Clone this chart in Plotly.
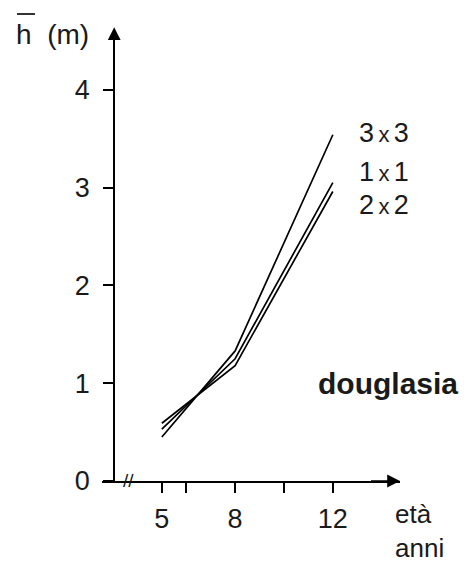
import plotly.graph_objects as go

eta = [5, 8, 12]
h_3x3 = [0.45, 1.33, 3.54]
h_1x1 = [0.53, 1.25, 3.05]
h_2x2 = [0.59, 1.18, 2.96]
series = [('3x3', h_3x3, 3.56), ('1x1', h_1x1, 3.16), ('2x2', h_2x2, 2.82)]

x_ticks = [5, 6, 8, 10, 12]
x_ticktext = ['5', '', '8', '', '12']
y_ticks = [0, 1, 2, 3, 4]

FONT = 'Liberation Sans, Arial, sans-serif'
X0, X1 = 2.55, 14.75
Y0, Y1 = 0, 4.56
Y_AXIS_X = 3.05
# page has an 8px body margin, plot area wanted at screen px 102..400 x 35..481
OFF = 8
L, T = 102 - OFF, 35 - OFF
PW, PH = 298, 446


def px(sx):
    return (sx - OFF - L) / PW


def py(sy):
    return (T + PH - (sy - OFF)) / PH


fig = go.Figure()
for name, vals, _ in series:
    fig.add_trace(go.Scatter(x=eta, y=vals, mode='lines', name=name,
                             line=dict(color='black', width=1.7), cliponaxis=False))

# curve labels
for name, vals, ylab in series:
    a, b = name.split('x')
    fig.add_annotation(x=13.0, y=ylab, text=a + '<span style="font-size:22px">\u2009x\u2009</span>' + b,
                       showarrow=False, xanchor='left', font=dict(size=27))

fig.add_annotation(x=11.3, y=1.0, text='<b>douglasia</b>', showarrow=False,
                   xanchor='left', font=dict(size=30))

# axis arrows
fig.add_annotation(x=Y_AXIS_X, y=4.64, ax=Y_AXIS_X, ay=4.2, xref='x', yref='y', axref='x', ayref='y',
                   text='', showarrow=True, arrowhead=2, arrowsize=1.6, arrowwidth=1.6, arrowcolor='black')
fig.add_annotation(x=X1, y=0, ax=13.5, ay=0, xref='x', yref='y', axref='x', ayref='y',
                   text='', showarrow=True, arrowhead=2, arrowsize=1.6, arrowwidth=1.6, arrowcolor='black')

# axis break mark
fig.add_annotation(x=3.65, y=0, text='//', showarrow=False, font=dict(size=19), yshift=1)

# axis titles
fig.add_annotation(xref='paper', yref='paper', x=px(393), y=py(497),
                   text='età<br>anni', showarrow=False, xanchor='left', yanchor='top',
                   align='left', font=dict(size=26))
fig.add_annotation(xref='paper', yref='paper', x=px(14), y=py(17),
                   text='h  (m)', showarrow=False, xanchor='left', yanchor='top',
                   font=dict(size=28))
fig.add_shape(type='line', xref='paper', yref='paper',
              x0=px(17), x1=px(35), y0=py(14), y1=py(14),
              line=dict(color='black', width=1.6))

fig.update_layout(
    width=470, height=564,
    margin=dict(l=L, r=470 - L - PW, t=T, b=564 - T - PH),
    paper_bgcolor='white', plot_bgcolor='white',
    showlegend=False,
    font=dict(family=FONT, color='#1a1a1a', size=26),
    xaxis=dict(range=[X0, X1], showgrid=False, zeroline=False, showline=True,
               linecolor='black', linewidth=1.6, ticks='outside', ticklen=10,
               tickwidth=1.6, tickcolor='black', tickvals=x_ticks, ticktext=x_ticktext,
               tickfont=dict(size=27), ticklabelstandoff=3),
    yaxis=dict(range=[Y0, Y1], showgrid=False, zeroline=False, showline=True,
               anchor='free', position=(114 - 102) / 298,
               linecolor='black', linewidth=1.6, ticks='outside', ticklen=10,
               tickwidth=1.6, tickcolor='black', tickvals=y_ticks,
               tickfont=dict(size=27), ticklabelstandoff=8),
)

fig.write_html('out.html')
